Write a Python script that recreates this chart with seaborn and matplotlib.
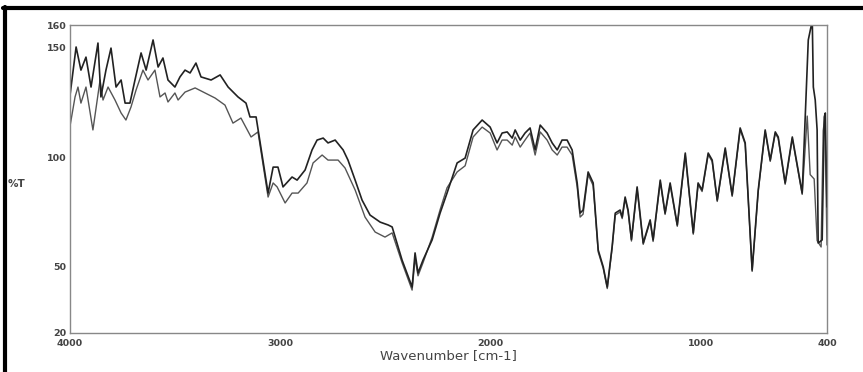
"""IR transmission spectrum: two overlaid scans (%T vs wavenumber)."""

import matplotlib
matplotlib.use("Agg")
import matplotlib.pyplot as plt
from matplotlib.lines import Line2D
import seaborn as sns

# scan 1 (upper / darker trace)
wn_a = [4000, 3995, 3971, 3948, 3924, 3900, 3867, 3853, 3829, 3805, 3781, 3757,
        3738, 3715, 3691, 3662, 3638, 3605, 3581, 3558, 3534, 3501, 3477, 3453,
        3429, 3401, 3377, 3329, 3286, 3248, 3201, 3163, 3144, 3115, 3058, 3034,
        3011, 2987, 2944, 2920, 2882, 2849, 2825, 2796, 2773, 2739, 2701, 2678,
        2644, 2611, 2573, 2525, 2487, 2468, 2421, 2373, 2359, 2345, 2321, 2278,
        2240, 2207, 2159, 2121, 2083, 2040, 2002, 1969, 1945, 1921, 1897, 1883,
        1859, 1836, 1812, 1788, 1764, 1731, 1707, 1683, 1660, 1636, 1612, 1588,
        1574, 1560, 1536, 1512, 1488, 1464, 1445, 1422, 1407, 1384, 1374, 1360,
        1346, 1330, 1303, 1274, 1241, 1227, 1193, 1170, 1146, 1112, 1074, 1036,
        1013, 994, 965, 946, 922, 884, 851, 813, 789, 756, 727, 694, 670, 646,
        632, 599, 565, 518, 489, 470, 465, 456, 447, 442, 423, 413, 408, 400]
t_a = [128.0, 131.8, 150.0, 139.5, 145.4, 131.8, 151.8, 127.3, 139.5, 149.5, 131.8, 135.0,
       124.5, 124.5, 135.0, 147.3, 139.5, 153.2, 140.9, 145.0, 135.0, 131.8, 136.4, 139.5,
       138.2, 142.7, 136.4, 135.0, 137.3, 131.8, 127.3, 124.5, 118.2, 118.2, 83.6, 95.4,
       95.4, 86.4, 90.9, 89.5, 94.1, 103.2, 107.7, 108.6, 106.4, 107.7, 103.2, 98.6,
       89.5, 80.4, 73.6, 70.4, 69.1, 68.2, 53.2, 40.9, 56.4, 47.3, 53.2, 62.3,
       74.5, 83.6, 97.3, 99.5, 112.3, 116.8, 113.6, 106.4, 110.9, 111.4, 108.6, 112.3,
       107.7, 110.9, 113.2, 103.2, 114.5, 110.9, 106.4, 103.2, 107.7, 107.7, 103.2, 88.2,
       74.5, 75.9, 93.2, 88.2, 57.7, 50.0, 40.9, 59.1, 74.5, 75.9, 72.7, 81.8,
       75.9, 62.5, 86.4, 60.9, 71.4, 62.3, 89.5, 74.5, 88.2, 69.1, 101.8, 65.5,
       88.2, 85.0, 101.8, 98.6, 80.4, 104.1, 82.7, 113.2, 106.4, 48.6, 85.0, 112.3, 98.6, 111.4,
       109.1, 88.2, 109.1, 83.6, 153.2, 162.0, 131.8, 125.9, 112.3, 60.9, 62.3, 118.2, 120.0, 77.3]

# scan 2 (lower / lighter trace)
wn_b = [4000, 3995, 3976, 3962, 3948, 3924, 3891, 3857, 3843, 3819, 3786, 3757,
        3734, 3710, 3686, 3653, 3629, 3596, 3572, 3548, 3534, 3501, 3486, 3453,
        3405, 3358, 3310, 3263, 3225, 3187, 3139, 3106, 3058, 3034, 3015, 2977,
        2944, 2915, 2873, 2844, 2801, 2773, 2725, 2692, 2644, 2597, 2549, 2502,
        2468, 2421, 2373, 2359, 2345, 2321, 2278, 2240, 2207, 2159, 2121, 2083,
        2040, 2002, 1969, 1945, 1921, 1897, 1883, 1859, 1836, 1812, 1788, 1764,
        1731, 1707, 1683, 1660, 1636, 1612, 1588, 1574, 1560, 1536, 1512, 1488,
        1464, 1445, 1422, 1407, 1384, 1374, 1360, 1346, 1330, 1303, 1274, 1241,
        1227, 1193, 1170, 1146, 1112, 1074, 1036, 1013, 994, 965, 946, 922,
        884, 851, 813, 789, 756, 727, 694, 670, 646, 632, 599, 565, 518, 494,
        480, 461, 447, 428, 418, 410, 400]
t_b = [114.0, 116.8, 127.3, 131.8, 124.5, 131.8, 112.3, 135.0, 125.9, 131.8, 125.9, 120.0,
       116.8, 122.7, 130.4, 139.5, 135.0, 139.5, 127.3, 129.1, 125.0, 129.1, 125.9, 129.5,
       131.4, 129.1, 126.8, 123.6, 115.4, 117.7, 109.1, 111.4, 81.8, 88.2, 86.4, 79.1,
       83.6, 83.6, 88.2, 97.3, 100.9, 98.6, 98.6, 95.0, 85.0, 72.7, 65.9, 63.6,
       65.5, 52.0, 39.5, 54.0, 46.0, 52.0, 63.5, 76.0, 86.0, 93.2, 96.0, 109.1,
       113.6, 110.9, 103.2, 107.7, 107.7, 105.4, 109.1, 104.5, 107.7, 110.9, 100.9, 111.4,
       107.7, 103.2, 100.9, 104.5, 104.5, 100.9, 86.4, 72.7, 74.0, 92.0, 87.0, 56.8,
       49.3, 40.2, 58.4, 73.6, 75.0, 72.0, 80.9, 75.2, 61.8, 85.5, 60.3, 70.8,
       61.6, 88.7, 73.9, 87.4, 68.5, 101.0, 64.9, 87.5, 84.3, 101.1, 97.9, 79.8,
       103.4, 82.1, 112.5, 105.8, 48.0, 84.4, 111.6, 98.0, 110.8, 108.5, 87.6, 108.4, 83.0, 118.6,
       92.0, 90.0, 62.0, 59.1, 112.0, 118.0, 60.0]

x_major = [4000, 3000, 2000, 1000, 400]
x_minor = [3500, 2500, 1500, 500]
y_major = [20, 50, 100, 150, 160]
y_minor = [25, 75]

sns.set_style("white")
plt.rcParams["font.family"] = ["DejaVu Sans"]

fig = plt.figure(figsize=(8.63, 3.72), dpi=100)
ax = fig.add_axes([70 / 863, 1 - 333 / 372, 757 / 863, 308 / 372])

sns.lineplot(x=wn_b, y=t_b, ax=ax, color="#555555", linewidth=1.0)
sns.lineplot(x=wn_a, y=t_a, ax=ax, color="#222222", linewidth=1.2)

ax.set_xlim(4000, 400)
ax.set_ylim(20, 160)
ax.set_xticks(x_major)
ax.set_xticks(x_minor, minor=True)
ax.set_yticks(y_major)
ax.set_yticks(y_minor, minor=True)
ax.tick_params(axis="both", which="major", direction="in", length=5, width=0.8,
               color="#777777", labelsize=6.8, labelcolor="#444444")
ax.tick_params(axis="both", which="minor", direction="in", length=3, width=0.8,
               color="#777777")
ax.tick_params(axis="x", pad=4)
ax.tick_params(axis="y", pad=2.5)
for lbl in ax.get_xticklabels() + ax.get_yticklabels():
    lbl.set_fontweight("bold")

for spine in ax.spines.values():
    spine.set_color("#888888")
    spine.set_linewidth(1.0)

ax.set_xlabel("Wavenumber [cm-1]", fontsize=9.5, color="#444444", labelpad=1)
ax.set_ylabel("")
fig.text(8 / 863, 1 - 184 / 372, "%T", fontsize=7.5, color="#444444",
         fontweight="bold", va="center", ha="left")

# black frame remains from the scanned page (top and left edges)
fig.add_artist(Line2D([3 / 863, 1.0], [1 - 8 / 372, 1 - 8 / 372],
                      color="black", linewidth=3, transform=fig.transFigure))
fig.add_artist(Line2D([5 / 863, 5 / 863], [0.0, 1 - 7 / 372],
                      color="black", linewidth=3, transform=fig.transFigure))

fig.savefig("out.png", dpi=100)
plt.close(fig)
